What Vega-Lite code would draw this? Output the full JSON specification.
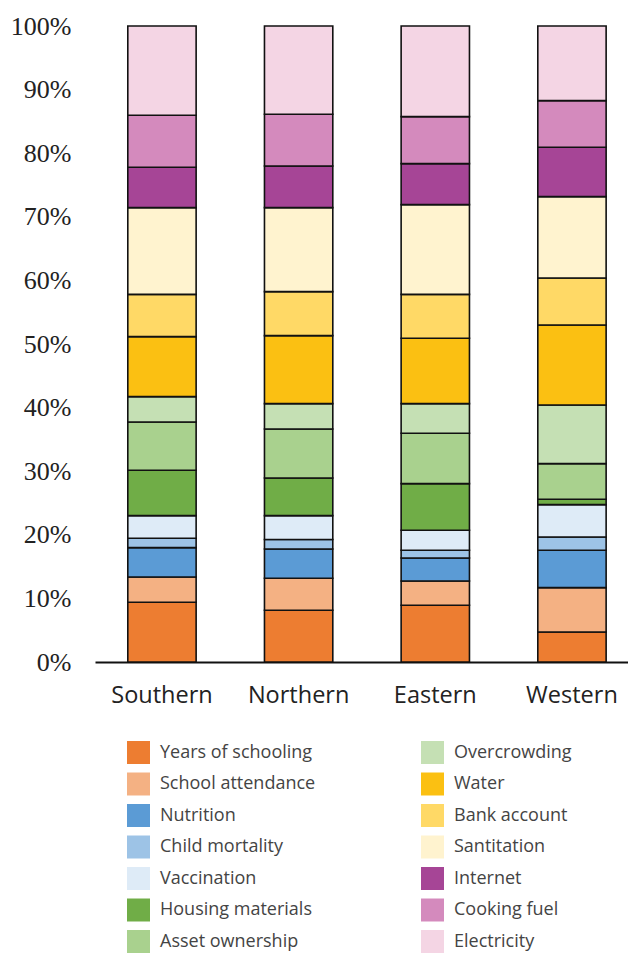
{
  "$schema": "https://vega.github.io/schema/vega-lite/v6.json",
  "width": 533,
  "height": 636,
  "autosize": {"type": "none"},
  "padding": {"left": 95, "top": 26, "right": 0, "bottom": 293},
  "background": "white",
  "config": {"view": {"stroke": null}},
  "data": {
    "values": [
      {"region": "Southern", "indicator": "Years of schooling", "rank": 1, "value": 9.39},
      {"region": "Southern", "indicator": "School attendance", "rank": 2, "value": 3.97},
      {"region": "Southern", "indicator": "Nutrition", "rank": 3, "value": 4.63},
      {"region": "Southern", "indicator": "Child mortality", "rank": 4, "value": 1.46},
      {"region": "Southern", "indicator": "Vaccination", "rank": 5, "value": 3.57},
      {"region": "Southern", "indicator": "Housing materials", "rank": 6, "value": 7.12},
      {"region": "Southern", "indicator": "Asset ownership", "rank": 7, "value": 7.60},
      {"region": "Southern", "indicator": "Overcrowding", "rank": 8, "value": 3.99},
      {"region": "Southern", "indicator": "Water", "rank": 9, "value": 9.43},
      {"region": "Southern", "indicator": "Bank account", "rank": 10, "value": 6.65},
      {"region": "Southern", "indicator": "Santitation", "rank": 11, "value": 13.64},
      {"region": "Southern", "indicator": "Internet", "rank": 12, "value": 6.33},
      {"region": "Southern", "indicator": "Cooking fuel", "rank": 13, "value": 8.18},
      {"region": "Southern", "indicator": "Electricity", "rank": 14, "value": 14.04},
      {"region": "Northern", "indicator": "Years of schooling", "rank": 1, "value": 8.13},
      {"region": "Northern", "indicator": "School attendance", "rank": 2, "value": 5.03},
      {"region": "Northern", "indicator": "Nutrition", "rank": 3, "value": 4.61},
      {"region": "Northern", "indicator": "Child mortality", "rank": 4, "value": 1.48},
      {"region": "Northern", "indicator": "Vaccination", "rank": 5, "value": 3.77},
      {"region": "Northern", "indicator": "Housing materials", "rank": 6, "value": 5.91},
      {"region": "Northern", "indicator": "Asset ownership", "rank": 7, "value": 7.71},
      {"region": "Northern", "indicator": "Overcrowding", "rank": 8, "value": 3.99},
      {"region": "Northern", "indicator": "Water", "rank": 9, "value": 10.69},
      {"region": "Northern", "indicator": "Bank account", "rank": 10, "value": 6.92},
      {"region": "Northern", "indicator": "Santitation", "rank": 11, "value": 13.21},
      {"region": "Northern", "indicator": "Internet", "rank": 12, "value": 6.54},
      {"region": "Northern", "indicator": "Cooking fuel", "rank": 13, "value": 8.13},
      {"region": "Northern", "indicator": "Electricity", "rank": 14, "value": 13.88},
      {"region": "Eastern", "indicator": "Years of schooling", "rank": 1, "value": 8.92},
      {"region": "Eastern", "indicator": "School attendance", "rank": 2, "value": 3.82},
      {"region": "Eastern", "indicator": "Nutrition", "rank": 3, "value": 3.61},
      {"region": "Eastern", "indicator": "Child mortality", "rank": 4, "value": 1.21},
      {"region": "Eastern", "indicator": "Vaccination", "rank": 5, "value": 3.15},
      {"region": "Eastern", "indicator": "Housing materials", "rank": 6, "value": 7.34},
      {"region": "Eastern", "indicator": "Asset ownership", "rank": 7, "value": 7.91},
      {"region": "Eastern", "indicator": "Overcrowding", "rank": 8, "value": 4.67},
      {"region": "Eastern", "indicator": "Water", "rank": 9, "value": 10.27},
      {"region": "Eastern", "indicator": "Bank account", "rank": 10, "value": 6.91},
      {"region": "Eastern", "indicator": "Santitation", "rank": 11, "value": 14.11},
      {"region": "Eastern", "indicator": "Internet", "rank": 12, "value": 6.44},
      {"region": "Eastern", "indicator": "Cooking fuel", "rank": 13, "value": 7.39},
      {"region": "Eastern", "indicator": "Electricity", "rank": 14, "value": 14.25},
      {"region": "Western", "indicator": "Years of schooling", "rank": 1, "value": 4.72},
      {"region": "Western", "indicator": "School attendance", "rank": 2, "value": 6.98},
      {"region": "Western", "indicator": "Nutrition", "rank": 3, "value": 5.86},
      {"region": "Western", "indicator": "Child mortality", "rank": 4, "value": 2.09},
      {"region": "Western", "indicator": "Vaccination", "rank": 5, "value": 5.10},
      {"region": "Western", "indicator": "Housing materials", "rank": 6, "value": 0.83},
      {"region": "Western", "indicator": "Asset ownership", "rank": 7, "value": 5.61},
      {"region": "Western", "indicator": "Overcrowding", "rank": 8, "value": 9.22},
      {"region": "Western", "indicator": "Water", "rank": 9, "value": 12.58},
      {"region": "Western", "indicator": "Bank account", "rank": 10, "value": 7.39},
      {"region": "Western", "indicator": "Santitation", "rank": 11, "value": 12.80},
      {"region": "Western", "indicator": "Internet", "rank": 12, "value": 7.75},
      {"region": "Western", "indicator": "Cooking fuel", "rank": 13, "value": 7.34},
      {"region": "Western", "indicator": "Electricity", "rank": 14, "value": 11.73}
    ]
  },
  "mark": {"type": "bar", "stroke": "#111111", "strokeWidth": 1.6},
  "encoding": {
    "x": {
      "field": "region",
      "type": "nominal",
      "sort": null,
      "scale": {"paddingInner": 0.5, "paddingOuter": 0.2, "align": 0.6},
      "axis": {
        "title": null,
        "labelAngle": 0,
        "labelFont": "Open Sans",
        "labelFontSize": 23.5,
        "labelColor": "#222222",
        "labelPadding": 21,
        "ticks": false,
        "domainColor": "#111111",
        "domainWidth": 1.8
      }
    },
    "y": {
      "field": "value",
      "type": "quantitative",
      "stack": "normalize",
      "scale": {"domain": [0, 1]},
      "axis": {
        "title": null,
        "values": [0, 0.1, 0.2, 0.3, 0.4, 0.5, 0.6, 0.7, 0.8, 0.9, 1],
        "format": ".0%",
        "grid": false,
        "domain": false,
        "ticks": false,
        "labelFont": "Liberation Serif",
        "labelFontSize": 26,
        "labelColor": "#222222",
        "labelPadding": 24
      }
    },
    "order": {"field": "rank", "type": "quantitative", "sort": "ascending"},
    "color": {
      "field": "indicator",
      "type": "nominal",
      "scale": {
        "domain": ["Years of schooling", "School attendance", "Nutrition", "Child mortality", "Vaccination", "Housing materials", "Asset ownership", "Overcrowding", "Water", "Bank account", "Santitation", "Internet", "Cooking fuel", "Electricity"],
        "range": ["#ED7D31", "#F4B183", "#5B9BD5", "#9DC3E6", "#DEEBF7", "#70AD47", "#A9D18E", "#C5E0B4", "#FBC012", "#FFD966", "#FFF3CF", "#A64596", "#D48ABD", "#F4D5E4"]
      },
      "legend": {
        "title": null,
        "orient": "none",
        "legendX": 32,
        "legendY": 715,
        "columns": 2,
        "direction": "vertical",
        "symbolType": "square",
        "symbolSize": 529,
        "symbolStrokeWidth": 0,
        "labelFont": "Open Sans",
        "labelFontSize": 18,
        "labelColor": "#444444",
        "labelOffset": 10,
        "labelLimit": 250,
        "rowPadding": 8.5,
        "columnPadding": 105
      }
    }
  }
}
